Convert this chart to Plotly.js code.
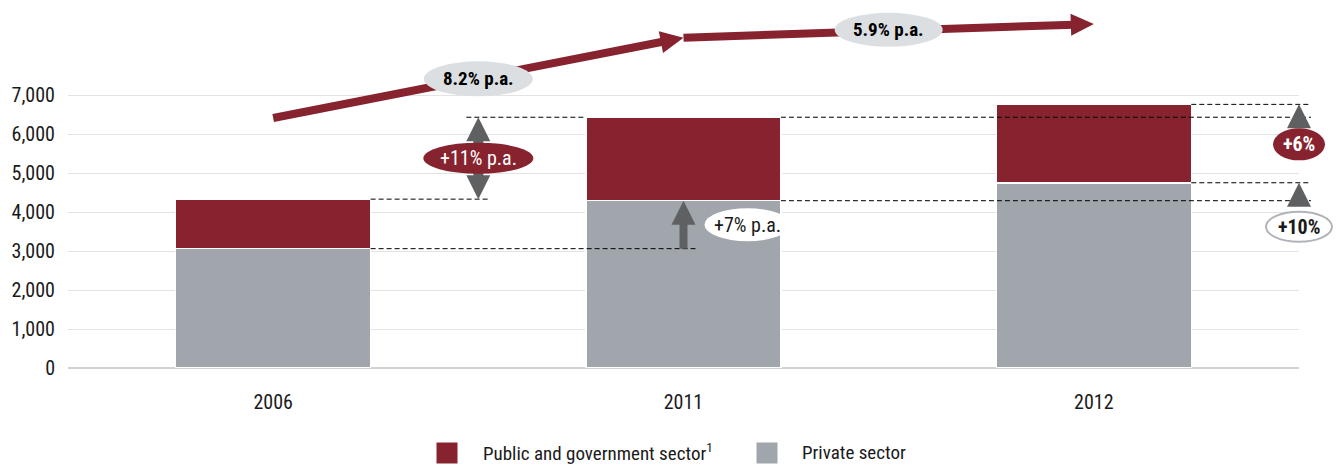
<!DOCTYPE html>
<html>
<head>
<meta charset="utf-8">
<script src="https://cdn.plot.ly/plotly-3.0.1.min.js"></script>
<style>
  html, body { margin: 0; padding: 0; background: #fff; }
  #chart { width: 1338px; height: 465px; }
</style>
</head>
<body>
<div id="chart"></div>
<script>
// ---- data ----
const years = ['2006', '2011', '2012'];
const privateSector = [3060, 4290, 4750];
const publicSector = [1270, 2140, 2010];
const yTicks = [0, 1000, 2000, 3000, 4000, 5000, 6000, 7000];
const trendLabels = ['8.2% p.a.', '5.9% p.a.'];
const spanLabels = ['+11% p.a.', '+7% p.a.'];
const yoyLabels = ['+6%', '+10%'];
const seriesNames = ['Public and government sector<sup>1</sup>', 'Private sector'];

// ---- styling / layout constants ----
const RED = '#86232F';
const GREY = '#A0A6AC';
const ARROW_GREY = '#5E6062';
const OVAL_GREY = '#DCDFE2';
const TEXT = '#1a1a1a';
const FONT = '"Liberation Sans Narrow", "Roboto Condensed", "DejaVu Sans Condensed", "Arial Narrow", sans-serif';

const M = { l: 68, r: 39, t: 10, b: 97 };
const W = 1338 - M.l - M.r;
const H = 465 - M.t - M.b;
const YMAX = 9180;
const BW = 0.475;

const total = privateSector.map((v, i) => v + publicSector[i]);

const X = i => (i + 0.5) / 3;      // category index -> paper x
const Y = v => v / YMAX;            // value -> paper y
const PX = p => p / W;              // pixel offset -> paper x
const PY = p => p / H;              // pixel offset -> paper y

const shapes = [];
const annotations = [];

function dashed(x0, x1, yv) {
  shapes.push({ type: 'line', xref: 'paper', yref: 'paper', layer: 'above',
    x0: x0, x1: x1, y0: Y(yv), y1: Y(yv),
    line: { color: '#000', width: 1, dash: '5px,3px' } });
}
function tri(xa, ya, dir, color) { // tip at (xa, ya) paper, dir 1 = up, -1 = down
  const h = 24 * dir, w = 12;
  shapes.push({ type: 'path', xref: 'paper', yref: 'paper', layer: 'above',
    xsizemode: 'pixel', ysizemode: 'pixel', xanchor: xa, yanchor: ya,
    path: `M0,0 L${-w},${-h} L${w},${-h} Z`,
    fillcolor: color, line: { width: 0 } });
}
function oval(xa, ya, w, h, fill, lineColor, lineWidth) {
  shapes.push({ type: 'circle', xref: 'paper', yref: 'paper', layer: 'above',
    xsizemode: 'pixel', ysizemode: 'pixel', xanchor: xa, yanchor: ya,
    x0: -w / 2, x1: w / 2, y0: -h / 2, y1: h / 2,
    fillcolor: fill, line: { color: lineColor || fill, width: lineWidth || 0 } });
}
function label(xa, ya, text, color, bold, size) {
  annotations.push({ xref: 'paper', yref: 'paper', x: xa, y: ya, text: bold ? '<b>' + text + '</b>' : text,
    showarrow: false, xanchor: 'center', yanchor: 'middle',
    font: { family: FONT, size: size || 20, color: color } });
}
function bigArrow(x0, y0, x1, y1) { // category idx / value coords
  const p0x = X(x0) * W, p0y = Y(y0) * H, p1x = X(x1) * W, p1y = Y(y1) * H;
  const dx = p1x - p0x, dy = p1y - p0y, len = Math.hypot(dx, dy);
  const ux = dx / len, uy = dy / len, nx = -uy, ny = ux;
  const L = 23, HW = 11;
  shapes.push({ type: 'line', xref: 'paper', yref: 'paper', layer: 'above',
    x0: X(x0), y0: Y(y0), x1: PX(p1x - (L - 3) * ux), y1: PY(p1y - (L - 3) * uy),
    line: { color: RED, width: 8 } });
  const bx = -L * ux, by = -L * uy;
  shapes.push({ type: 'path', xref: 'paper', yref: 'paper', layer: 'above',
    xsizemode: 'pixel', ysizemode: 'pixel', xanchor: X(x1), yanchor: Y(y1),
    path: `M0,0 L${(bx + HW * nx).toFixed(2)},${(by + HW * ny).toFixed(2)} L${(bx - HW * nx).toFixed(2)},${(by - HW * ny).toFixed(2)} Z`,
    fillcolor: RED, line: { width: 0 } });
}

// dashed reference lines
const RX = X(2.5);
dashed(X(0 + BW / 2), X(0.5) + PX(12), total[0]);
dashed(X(0 + BW / 2), X(1) + PX(12), privateSector[0]);
dashed(X(0.5) - PX(12), X(1 - BW / 2), total[1]);
dashed(X(1 + BW / 2), RX + PX(12), total[1]);
dashed(X(1 + BW / 2), RX + PX(12), privateSector[1]);
dashed(X(2 + BW / 2), RX + PX(12), total[2]);
dashed(X(2 + BW / 2), RX + PX(12), privateSector[2]);

// +11% double arrow (public growth 2006 -> 2011)
shapes.push({ type: 'rect', xref: 'paper', yref: 'paper', layer: 'above',
  xsizemode: 'pixel', xanchor: X(0.5), x0: -5, x1: 5,
  y0: Y(total[0]) + PY(20), y1: Y(total[1]) - PY(20),
  fillcolor: ARROW_GREY, line: { width: 0 } });
tri(X(0.5), Y(total[1]), 1, ARROW_GREY);
tri(X(0.5), Y(total[0]), -1, ARROW_GREY);
const midA = (total[0] + total[1]) / 2;
oval(X(0.5), Y(midA), 110, 31, RED);
label(X(0.5), Y(midA), spanLabels[0], '#ffffff', false, 20);

// +7% arrow (private growth 2006 -> 2011)
shapes.push({ type: 'rect', xref: 'paper', yref: 'paper', layer: 'above',
  xsizemode: 'pixel', xanchor: X(1), x0: -4, x1: 4,
  y0: Y(privateSector[0]), y1: Y(privateSector[1]) - PY(20),
  fillcolor: ARROW_GREY, line: { width: 0 } });
tri(X(1), Y(privateSector[1]), 1, ARROW_GREY);
const midB = (privateSector[0] + privateSector[1]) / 2;
oval(X(1) + PX(64), Y(midB), 86, 33, '#ffffff');
label(X(1) + PX(64), Y(midB), spanLabels[1], TEXT, false, 20);

// right side year-on-year markers
tri(RX, Y(total[2]), 1, ARROW_GREY);
oval(RX, Y(total[2]) - PY(40), 52, 32, RED);
label(RX, Y(total[2]) - PY(40), yoyLabels[0], '#ffffff', true, 20);
tri(RX, Y(privateSector[2]), 1, ARROW_GREY);
oval(RX, Y(privateSector[2]) - PY(44), 66, 30, '#ffffff', '#B0B4B8', 2);
label(RX, Y(privateSector[2]) - PY(44), yoyLabels[1], TEXT, true, 20);

// top trend arrows (total CAGR)
const trendY = [6410, 8470, 8821];
bigArrow(0, trendY[0], 1, trendY[1]);
bigArrow(1, trendY[1], 2, trendY[2]);
oval(X(0.5), Y((trendY[0] + trendY[1]) / 2) - PY(1), 109, 35, OVAL_GREY);
label(X(0.5), Y((trendY[0] + trendY[1]) / 2) - PY(1), trendLabels[0], '#000', true, 19);
oval(X(1.5), Y((trendY[1] + trendY[2]) / 2) + PY(1), 108, 34, OVAL_GREY);
label(X(1.5), Y((trendY[1] + trendY[2]) / 2) + PY(1), trendLabels[1], '#000', true, 19);

// legend (drawn manually to match large swatches)
const legY = PY(368 - 453);
const legItems = [
  { x: 447, tx: 481, color: RED, name: seriesNames[0] },
  { x: 767, tx: 800, color: GREY, name: seriesNames[1] }
];
legItems.forEach(it => {
  shapes.push({ type: 'rect', xref: 'paper', yref: 'paper', layer: 'above',
    xsizemode: 'pixel', ysizemode: 'pixel', xanchor: PX(it.x - M.l), yanchor: legY,
    x0: -10.5, x1: 10.5, y0: -10.5, y1: 10.5, fillcolor: it.color, line: { width: 0 } });
  annotations.push({ xref: 'paper', yref: 'paper', x: PX(it.tx - M.l), y: legY,
    text: it.name, showarrow: false, xanchor: 'left', yanchor: 'middle',
    font: { family: FONT, size: 19, color: TEXT } });
});

const traces = [
  { type: 'bar', name: 'Private sector', x: years, y: privateSector,
    marker: { color: GREY, line: { color: '#ffffff', width: 1.5 } }, hoverinfo: 'x+y+name' },
  { type: 'bar', name: 'Public and government sector', x: years, y: publicSector,
    marker: { color: RED, line: { color: '#ffffff', width: 1.5 } }, hoverinfo: 'x+y+name' }
];

const layout = {
  width: 1338, height: 465,
  margin: M,
  paper_bgcolor: '#ffffff', plot_bgcolor: '#ffffff',
  barmode: 'stack', bargap: 1 - BW,
  showlegend: false,
  font: { family: FONT, size: 20, color: TEXT },
  xaxis: { type: 'category', range: [-0.5, 2.5], showgrid: false, zeroline: false,
    showline: false, ticks: '', ticklabelstandoff: 20, tickfont: { family: FONT, size: 20, color: TEXT },
    fixedrange: true },
  yaxis: { range: [0, YMAX], tickvals: yTicks, tickformat: ',d', showgrid: true,
    gridcolor: '#E3E3E3', gridwidth: 1, zeroline: true, zerolinecolor: '#D2D2D2', zerolinewidth: 2,
    showline: false, ticks: '', ticklabelstandoff: 12, tickfont: { family: FONT, size: 20, color: TEXT },
    fixedrange: true },
  shapes: shapes,
  annotations: annotations
};

Plotly.newPlot('chart', traces, layout, { displayModeBar: false, staticPlot: true });
</script>
</body>
</html>
